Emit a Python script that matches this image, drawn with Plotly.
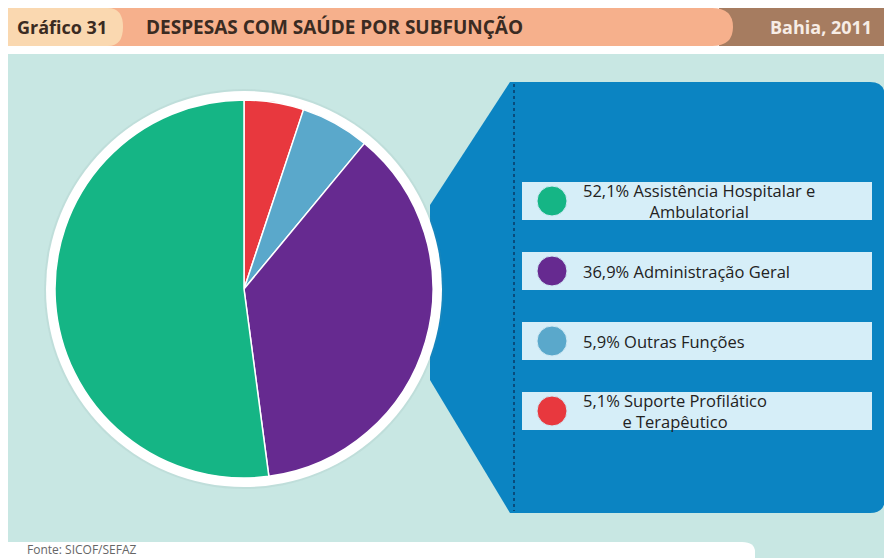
import plotly.graph_objects as go

# ---- data (legend order) ----
labels = ["Assistência Hospitalar e Ambulatorial", "Administração Geral",
          "Outras Funções", "Suporte Profilático e Terapêutico"]
legend_lines = [["Assistência Hospitalar e", "Ambulatorial"], ["Administração Geral"],
                ["Outras Funções"], ["Suporte Profilático", "e Terapêutico"]]
values = [52.1, 36.9, 5.9, 5.1]
colors = ["#15b585", "#662a90", "#5aa8cb", "#e8383e"]
title = "DESPESAS COM SAÚDE POR SUBFUNÇÃO"
chart_no = "Gráfico 31"
place_year = "Bahia, 2011"
source = "Fonte: SICOF/SEFAZ"

# page body has an 8px margin; figure covers page pixels 8..892 x 8..558
OX, OY = 8, 8
W, H = 892 - OX, 558 - OY
cx, cy, r = 244, 289, 189


def fx(X):
    return (X - OX) / W


def fy(Y):
    return 1 - (Y - OY) / H


fig = go.Figure()

# pie drawn clockwise from 12 o'clock starting with the smallest slice
fig.add_trace(go.Pie(
    labels=labels[::-1], values=values[::-1], sort=False, direction="clockwise", rotation=0,
    marker=dict(colors=colors[::-1], line=dict(color="white", width=1.5)),
    textinfo="none", hoverinfo="label+percent", showlegend=False,
    domain=dict(x=[fx(cx - r), fx(cx + r)], y=[fy(cy + r), fy(cy - r)]),
))

# legend rows
row_top0, row_step, row_h = 182, 70, 38
ys = [row_top0 + i * row_step + row_h / 2 for i in range(len(values))]
fig.add_trace(go.Scatter(
    x=[552] * len(values), y=ys, mode="markers", showlegend=False, hoverinfo="skip",
    marker=dict(size=30, color=colors, line=dict(color="#cfe9f4", width=1)),
))

shapes = []
shapes.append(dict(type="rect", x0=8, x1=892, y0=54, y1=558, fillcolor="#c8e7e3", line_width=0, layer="below"))
shapes.append(dict(type="path", path="M 0 542 L 742 542 Q 755 542 755 552 L 755 558 L 0 558 Z",
                   fillcolor="white", line_width=0, layer="below"))
shapes.append(dict(type="rect", x0=719, x1=892, y0=8, y1=46, fillcolor="#a67c60", line_width=0, layer="below"))
shapes.append(dict(type="path", path="M 100 8 L 712 8 Q 733 8 733 27 Q 733 46 712 46 L 100 46 Z",
                   fillcolor="#f6b08c", line_width=0, layer="below"))
shapes.append(dict(type="path", path="M 8 8 L 108 8 Q 123 8 123 27 Q 123 46 108 46 L 8 46 Z",
                   fillcolor="#fad8b0", line_width=0, layer="below"))
shapes.append(dict(type="path",
                   path="M 510 82 L 870 82 Q 885 82 885 97 L 885 498 Q 885 513 870 513 L 510 513 L 430 380 L 430 205 Z",
                   fillcolor="#0b84c2", line_width=0, layer="below"))
shapes.append(dict(type="line", x0=514, x1=514, y0=84, y1=511, line=dict(color="#0a3a66", width=1.5, dash="dot"),
                   layer="below"))
shapes.append(dict(type="circle", x0=cx - 200, x1=cx + 200, y0=cy - 200, y1=cy + 200,
                   fillcolor="rgba(120,150,150,0.10)", line_width=0, layer="below"))
shapes.append(dict(type="circle", x0=cx - 198, x1=cx + 198, y0=cy - 198, y1=cy + 198,
                   fillcolor="white", line_width=0, layer="below"))
for y in ys:
    shapes.append(dict(type="rect", x0=522, x1=872, y0=y - row_h / 2, y1=y + row_h / 2,
                       fillcolor="#d6eef8", line_width=0, layer="below"))

annotations = []
font = "Open Sans"
for v, lines, y in zip(values, legend_lines, ys):
    pct = f"{v:.1f}%".replace(".", ",")
    lines2 = [pct + " " + lines[0]] + lines[1:]
    annotations.append(dict(x=581, y=y, xref="x", yref="y", xanchor="left", yanchor="middle",
                            text="<br>".join(lines2), align="center", showarrow=False,
                            font=dict(family=font, size=16.5, color="#222222")))

annotations.append(dict(x=15, y=27, xref="x", yref="y", xanchor="left", yanchor="middle", text=chart_no,
                        showarrow=False, font=dict(family=font, size=18, color="#3a2b22", weight="bold")))
annotations.append(dict(x=144, y=27, xref="x", yref="y", xanchor="left", yanchor="middle", text=title,
                        showarrow=False, font=dict(family=font, size=19, color="#3a2b22", weight="bold")))
annotations.append(dict(x=874, y=27, xref="x", yref="y", xanchor="right", yanchor="middle", text=place_year,
                        showarrow=False, font=dict(family=font, size=18, color="#f7ede6", weight="bold")))
annotations.append(dict(x=26, y=549, xref="x", yref="y", xanchor="left", yanchor="middle", text=source,
                        showarrow=False, borderpad=0, font=dict(family=font, size=12, color="#666666")))

fig.update_layout(
    width=W, height=H, margin=dict(l=0, r=0, t=0, b=0),
    paper_bgcolor="white", plot_bgcolor="rgba(0,0,0,0)",
    xaxis=dict(range=[OX, 892], visible=False, fixedrange=True, domain=[0, 1]),
    yaxis=dict(range=[558, OY], visible=False, fixedrange=True, domain=[0, 1]),
    shapes=shapes, annotations=annotations, showlegend=False,
)

fig.write_html("out.html")
